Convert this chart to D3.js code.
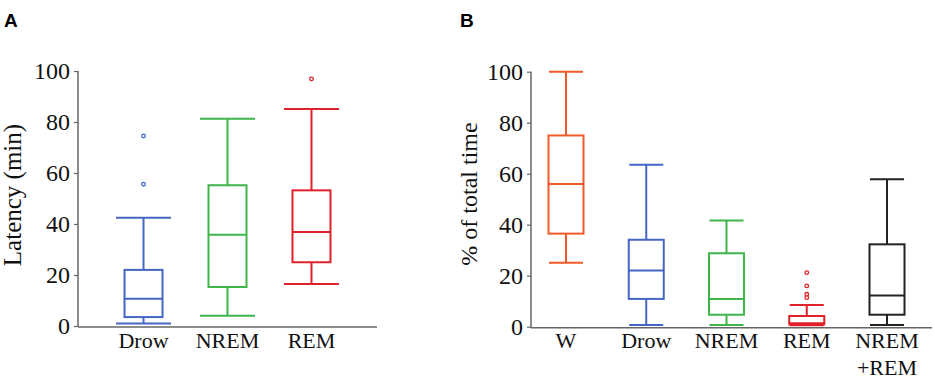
<!DOCTYPE html>
<html>
<head>
<meta charset="utf-8">
<script src="https://cdn.jsdelivr.net/npm/d3@7"></script>
<style>
body { margin: 0; background: #fff; }
text { font-family: "Liberation Serif", "Times New Roman", serif; }
text.panel { font-family: "Liberation Sans", Arial, sans-serif; font-weight: bold; font-size: 19px; }
</style>
</head>
<body>
<svg id="chart"></svg>
<script>
var w = 935, h = 379;

// panel A : latency
var catsA = ["Drow", "NREM", "REM"];
var colorsA = ["#4466c4", "#3db54a", "#e0202a"];
var loA  = [1.0, 4.0, 16.5];
var q1A  = [3.5, 15.3, 25.0];
var medA = [10.7, 35.8, 36.9];
var q3A  = [22.0, 55.2, 53.2];
var hiA  = [42.5, 81.3, 85.1];
var outA = [[74.5, 55.6], [], [96.9]];

// panel B : % of total time
var catsB = ["W", "Drow", "NREM", "REM", "NREM+REM"];
var colorsB = ["#ef5a28", "#4466c4", "#3db54a", "#e0202a", "#222222"];
var loB  = [25.1, 0.7, 0.7, 0.6, 0.7];
var q1B  = [36.5, 10.9, 4.7, 0.9, 4.7];
var medB = [56.0, 22.0, 10.9, 1.4, 12.2];
var q3B  = [75.0, 34.1, 28.8, 4.2, 32.3];
var hiB  = [100, 63.5, 41.6, 8.5, 57.8];
var outB = [[], [], [], [21.2, 16.0, 12.7, 11.4], []];

var yTicks = [0, 20, 40, 60, 80, 100];

var svg = d3.select("#chart")
	.attr("width", w)
	.attr("height", h);

function drawPanel(o) {
	var g = svg.append("g");

	var y = d3.scaleLinear().domain([0, 100]).range([o.y0, o.y0 - 255]);
	var x = d3.scalePoint().domain(o.cats).range(o.xr).padding(o.pad);

	// y axis
	var ya = g.append("g")
		.attr("transform", "translate(" + o.ax + ",0)")
		.call(d3.axisLeft(y).tickValues(yTicks).tickSize(4).tickPadding(4).tickSizeOuter(0))
		.attr("font-family", null)
		.attr("font-size", null);
	ya.select(".domain").attr("stroke", "#666").attr("stroke-width", 1.5)
		.attr("d", "M0," + (o.y0 + 1) + "V" + (y(100)));
	ya.selectAll(".tick line").attr("stroke", "#666").attr("stroke-width", 1.2);
	ya.selectAll(".tick text")
		.attr("fill", "#111")
		.attr("font-family", "Liberation Serif")
		.attr("font-size", 24);

	// x axis line
	g.append("line")
		.attr("x1", o.ax).attr("x2", o.axEnd)
		.attr("y1", o.y0 + 1).attr("y2", o.y0 + 1)
		.attr("stroke", "#666").attr("stroke-width", 1.5);

	// x labels
	o.cats.forEach(function(c) {
		var t = g.append("text")
			.attr("x", x(c))
			.attr("y", 348)
			.attr("text-anchor", "middle")
			.attr("fill", "#111")
			.attr("font-family", "Liberation Serif")
			.attr("font-size", 22);
		var parts = c == "NREM+REM" ? ["NREM", "+REM"] : [c];
		parts.forEach(function(p, i) {
			t.append("tspan").attr("x", x(c)).attr("dy", i == 0 ? 0 : 27).text(p);
		});
	});

	// y label
	g.append("text")
		.attr("transform", "translate(" + o.labX + "," + o.labY + ") rotate(-90)")
		.attr("text-anchor", "middle")
		.attr("fill", "#111")
		.attr("font-family", "Liberation Serif")
		.attr("font-size", o.labSize)
		.text(o.label);

	// panel letter
	g.append("text").attr("class", "panel")
		.attr("x", o.letX).attr("y", 27).text(o.letter);

	// boxes
	o.cats.forEach(function(c, i) {
		var cx = x(c), col = o.colors[i];
		var bw = o.boxW, cw = o.capW;
		var b = g.append("g").attr("stroke", col).attr("stroke-width", 2).attr("fill", "none");
		b.append("line").attr("x1", cx).attr("x2", cx).attr("y1", y(o.hi[i])).attr("y2", y(o.q3[i]));
		b.append("line").attr("x1", cx).attr("x2", cx).attr("y1", y(o.q1[i])).attr("y2", y(o.lo[i]));
		b.append("line").attr("x1", cx - cw / 2).attr("x2", cx + cw / 2).attr("y1", y(o.hi[i])).attr("y2", y(o.hi[i]));
		b.append("line").attr("x1", cx - cw / 2).attr("x2", cx + cw / 2).attr("y1", y(o.lo[i])).attr("y2", y(o.lo[i]));
		b.append("rect")
			.attr("x", cx - bw / 2).attr("width", bw)
			.attr("y", y(o.q3[i])).attr("height", y(o.q1[i]) - y(o.q3[i]));
		b.append("line").attr("x1", cx - bw / 2).attr("x2", cx + bw / 2).attr("y1", y(o.med[i])).attr("y2", y(o.med[i]));
		b.selectAll("circle")
			.data(o.out[i])
			.enter()
			.append("circle")
			.attr("cx", cx).attr("cy", function(d) { return y(d); })
			.attr("r", 1.8)
			.attr("stroke-width", 1.3)
			.attr("fill", "#fff");
	});
}

drawPanel({
	cats: catsA, colors: colorsA, lo: loA, q1: q1A, med: medA, q3: q3A, hi: hiA, out: outA,
	y0: 326, ax: 78, axEnd: 377, xr: [78, 377], pad: 0.78,
	boxW: 38, capW: 55,
	label: "Latency (min)", labX: 21, labY: 195, labSize: 25,
	letter: "A", letX: 4
});

drawPanel({
	cats: catsB, colors: colorsB, lo: loB, q1: q1B, med: medB, q3: q3B, hi: hiB, out: outB,
	y0: 326.7, ax: 531, axEnd: 932, xr: [531, 922], pad: 0.436,
	boxW: 35, capW: 34,
	label: "% of total time", labX: 477, labY: 194, labSize: 24,
	letter: "B", letX: 460
});
</script>
</body>
</html>
